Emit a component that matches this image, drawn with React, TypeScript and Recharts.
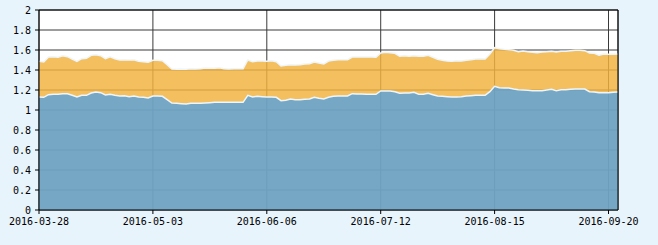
import React from "react";
import { AreaChart, Area, XAxis, YAxis, CartesianGrid, ReferenceLine } from "recharts";

// Trading days (weekdays, excluding Chinese market holidays) starting 2016-03-28
const startDate = "2016-03-28";
const pointCount = 123;
const holidays = ["2016-04-04", "2016-05-02", "2016-06-09", "2016-06-10", "2016-09-15", "2016-09-16"];

function buildDates(start: string, n: number, skip: string[]): string[] {
  const out: string[] = [];
  const d = new Date(start + "T00:00:00Z");
  while (out.length < n) {
    const day = d.getUTCDay();
    const s = d.toISOString().slice(0, 10);
    if (day !== 0 && day !== 6 && !skip.includes(s)) out.push(s);
    d.setUTCDate(d.getUTCDate() + 1);
  }
  return out;
}

const dates = buildDates(startDate, pointCount, holidays);

const upperValues = [
  1.487, 1.48, 1.53, 1.533, 1.527, 1.543, 1.533, 1.51, 1.487, 1.513, 1.517, 1.547, 1.553, 1.543, 1.513, 1.533, 1.513, 1.5, 1.503, 1.5,
  1.503, 1.487, 1.483, 1.477, 1.497, 1.497, 1.493, 1.453, 1.41, 1.407, 1.41, 1.407, 1.413, 1.41, 1.413, 1.42, 1.417, 1.417, 1.423,
  1.413, 1.41, 1.413, 1.413, 1.413, 1.5, 1.483, 1.49, 1.49, 1.487, 1.493, 1.483, 1.44, 1.447, 1.453, 1.45, 1.453, 1.46, 1.463, 1.48,
  1.47, 1.46, 1.49, 1.497, 1.503, 1.503, 1.503, 1.53, 1.53, 1.53, 1.53, 1.53, 1.527, 1.57, 1.577, 1.573, 1.567, 1.537, 1.543, 1.537,
  1.543, 1.537,
  1.537, 1.547, 1.527, 1.507, 1.497, 1.49, 1.487, 1.493, 1.49, 1.497, 1.503, 1.51, 1.513, 1.51, 1.56, 1.623, 1.613, 1.607, 1.603,
  1.597, 1.583, 1.59, 1.583, 1.577, 1.573, 1.58, 1.583, 1.587, 1.58, 1.587, 1.587, 1.593, 1.597, 1.597, 1.593, 1.57, 1.567, 1.547,
  1.56, 1.557, 1.557, 1.56,
];

const lowerValues = [
  1.13, 1.127, 1.153, 1.157, 1.157, 1.163, 1.163, 1.147, 1.13, 1.147, 1.147, 1.17, 1.18, 1.173, 1.15, 1.157, 1.147, 1.14, 1.143, 1.133,
  1.14, 1.13, 1.127, 1.12, 1.14, 1.14, 1.137, 1.103, 1.07, 1.067, 1.063, 1.06, 1.067, 1.067, 1.067, 1.07, 1.073, 1.077, 1.077,
  1.077, 1.077, 1.077, 1.077, 1.077, 1.147, 1.13, 1.137, 1.133, 1.13, 1.13, 1.127, 1.093, 1.097, 1.11, 1.103, 1.103, 1.107, 1.11,
  1.127, 1.117, 1.11, 1.127, 1.137, 1.14, 1.14, 1.14, 1.163, 1.16, 1.16, 1.157, 1.157, 1.157, 1.19, 1.19, 1.19, 1.183, 1.167, 1.17,
  1.17, 1.177, 1.157,
  1.157, 1.167, 1.153, 1.14, 1.137, 1.133, 1.13, 1.13, 1.133, 1.14, 1.143, 1.147, 1.147, 1.147, 1.183, 1.237, 1.223, 1.22, 1.22,
  1.21, 1.203, 1.2, 1.197, 1.193, 1.193, 1.193, 1.2, 1.207, 1.193, 1.203, 1.203, 1.207, 1.21, 1.21, 1.21, 1.183, 1.18, 1.173, 1.173,
  1.173, 1.177, 1.18,
];

const yTicks = [0, 0.2, 0.4, 0.6, 0.8, 1, 1.2, 1.4, 1.6, 1.8, 2];

const data = dates.map((date, i) => ({ date, upper: upperValues[i], lower: lowerValues[i] }));

const tickStyle = { fontFamily: "'DejaVu Sans Mono', monospace", fontSize: 10, fill: "#000" };

export default function App() {
  return (
    <div style={{ width: 658, height: 245, background: "#e8f4fc" }}>
      <style>{`body{margin:0}`}</style>
      <AreaChart width={658} height={245} data={data} margin={{ top: 10, right: 40, left: 0, bottom: 0 }}>
        <CartesianGrid stroke="#3a3a3a" fill="#ffffff" fillOpacity={1} />
        <XAxis
          dataKey="date"
          interval={23}
          height={35}
          tickSize={4}
          tickMargin={4}
          tick={tickStyle}
          axisLine={{ stroke: "#000" }}
          tickLine={{ stroke: "#000" }}
        />
        <YAxis
          domain={[0, 2]}
          ticks={yTicks}
          width={39}
          tickSize={4}
          tickMargin={4}
          tick={tickStyle}
          tickFormatter={(v: number) => String(Number(v.toFixed(1)))}
          axisLine={{ stroke: "#000" }}
          tickLine={{ stroke: "#000" }}
          interval={0}
        />
        <Area
          type="linear"
          dataKey="upper"
          fill="#f2b33f"
          fillOpacity={0.83}
          stroke="#eef6fc"
          strokeWidth={1.5}
          isAnimationActive={false}
          dot={false}
          activeDot={false}
        />
        <Area
          type="linear"
          dataKey="lower"
          fill="#409ef2"
          fillOpacity={0.7}
          stroke="#eef6fc"
          strokeWidth={1.5}
          isAnimationActive={false}
          dot={false}
          activeDot={false}
        />
        <ReferenceLine x={dates[dates.length - 1]} stroke="#000" strokeWidth={1} />
        <ReferenceLine y={2} stroke="#000" strokeWidth={1} />
      </AreaChart>
    </div>
  );
}
